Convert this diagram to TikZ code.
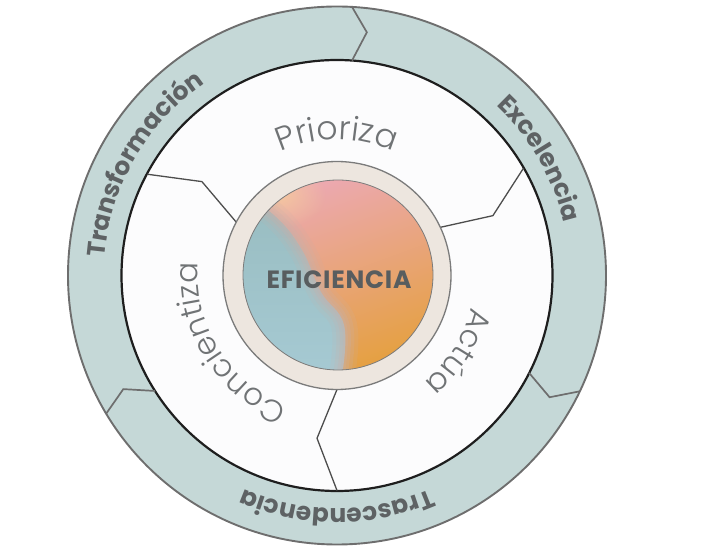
\documentclass[tikz,border=0pt]{standalone}
\usepackage{fontspec}
\usetikzlibrary{decorations.text,fadings}
\newfontfamily\popL{Poppins Light}
\newfontfamily\popB{Poppins Bold}
\newfontfamily\popBsp{Poppins Bold}[LetterSpace=3]
\definecolor{ringfill}{HTML}{C5D8D7}
\definecolor{outerline}{HTML}{6E6E6E}
\definecolor{innerline}{HTML}{1E1E1E}
\definecolor{divline}{HTML}{4D4D4D}
\definecolor{beige}{HTML}{EDE6DF}
\definecolor{beigeline}{HTML}{7B7B7B}
\definecolor{ringtext}{HTML}{5E6264}
\definecolor{innertext}{HTML}{707375}
\definecolor{efitext}{HTML}{585D5F}
\definecolor{gpink}{HTML}{ECA9B4}
\definecolor{gsalmon}{HTML}{E8967E}
\definecolor{gorange}{HTML}{E5A03F}
\definecolor{gblue}{HTML}{A8CCD6}
\definecolor{gteal}{HTML}{98BCC0}
\definecolor{gpeach}{HTML}{F4C79E}
\definecolor{whitearea}{HTML}{FCFCFD}
\tikzfading[name=softblob, inner color=transparent!0, outer color=transparent!100]
\begin{document}
\begin{tikzpicture}[x=1pt,y=1pt,
  ringlabel/.style={decorate,decoration={text along path,text align=center,
     text={|\popB\fontsize{25}{25}\selectfont\color{ringtext}|#1}}},
  innerlabel/.style 2 args={decorate,decoration={text along path,text align=center,
     text={|\popL\fontsize{#2}{#2}\selectfont\color{innertext}|#1}}},
  chevron/.style={draw=outerline,line width=1.7pt,line join=miter},
  divider/.style={draw=divline,line width=1.3pt,line join=miter}]
\useasboundingbox (0,0) rectangle (706,551);
\begin{scope}[shift={(337,275.5)}]
  % outer ring
  \fill[ringfill] (0,0) circle (269pt);
  \fill[whitearea] (0,0) circle (215.5pt);
  \draw[outerline,line width=1.9pt] (0,0) circle (269pt);
  \draw[innerline,line width=2.2pt] (0,0) circle (215.5pt);
  % chevrons in the ring
  \draw[chevron] (86.8:269pt) -- (83:245pt) -- (86:215.5pt);
  \draw[chevron] (-25.5:269pt) -- (-29.8:245pt) -- (-26.9:215.5pt);
  \draw[chevron] (210.9:269pt) -- (208:242pt) -- (212.4:215.5pt);
  % dividers in white area
  \draw[divider] (151.9:215pt) -- (145.2:164.5pt) -- (152.1:114pt);
  \draw[divider] (29.9:215pt) -- (21:167pt) -- (25:114pt);
  \draw[divider] (-90:114pt) -- (-97:164pt) -- (-90:215pt);
  % beige ring
  \draw[fill=beige,draw=beigeline,line width=1.3pt] (0,0) circle (114pt);
  % gradient disc
  \begin{scope}[shift={(1,0.5)}]
    \begin{scope}
      \clip (0,0) circle (95pt);
      \shade[top color=gpink,middle color=gsalmon,bottom color=gorange,shading angle=20]
        (-100,-100) rectangle (100,100);
      \fill[gpeach,path fading=softblob] (-60,80) ellipse (48pt and 34pt);
      \shade[top color=gteal,bottom color=gblue]
        plot[smooth,tension=0.7] coordinates {(-100,85) (-62,58) (-36,25) (-17,-17) (6,-50) (4,-100)}
        -- (-130,-130) -- (-130,85) -- cycle;
      \foreach \w/\o in {26/0.15,18/0.2,11/0.25,5/0.25}{
        \draw[line width=\w pt,color=gblue!50!gsalmon,opacity=\o]
          plot[smooth,tension=0.7] coordinates {(-100,85) (-62,58) (-36,25) (-17,-17) (6,-50) (4,-100)};
      }
    \end{scope}
    \draw[beigeline,line width=0.8pt] (0,0) circle (95pt);
    \node[font=\popBsp\fontsize{25}{25}\selectfont,text=efitext] (efi) at (1,-5) {EFICIENCIA};
  \end{scope}
  % ring labels
  \path[ringlabel=Transformación] (210:233pt) arc[start angle=210,end angle=90,radius=233pt];
  \path[ringlabel=Excelencia] (90:233pt) arc[start angle=90,end angle=-30,radius=233pt];
  \path[ringlabel=Trascendencia] (-30:233pt) arc[start angle=-30,end angle=-150,radius=233pt];
  % inner labels
  \path[innerlabel={Prioriza}{33}] (150:136pt) arc[start angle=150,end angle=30,radius=136pt];
  \path[innerlabel={Actúa}{31}] (28:138pt) arc[start angle=28,end angle=-92,radius=138pt];
  \path[innerlabel={Concientiza}{31}] (272:139pt) arc[start angle=272,end angle=152,radius=139pt];
\end{scope}
\end{tikzpicture}
\end{document}
